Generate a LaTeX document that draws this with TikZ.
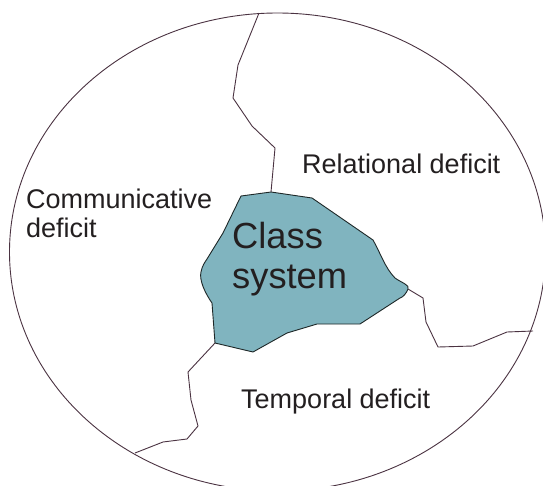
\documentclass[tikz,border=0pt]{standalone}
\usepackage{fontspec}
\setmainfont{Liberation Sans}
\definecolor{linecol}{HTML}{4B3342}
\definecolor{blobfill}{HTML}{80B4BF}
\definecolor{blobline}{HTML}{1E2828}
\definecolor{textcol}{HTML}{231F20}
\tikzset{
  border/.style={draw=linecol, line width=0.9pt},
  divider/.style={draw=linecol, line width=0.9pt, line join=round},
  blob/.style={fill=blobfill, draw=blobline, line width=0.9pt, line join=round},
  label/.style={anchor=base west, inner sep=0pt, text=textcol, font=\fontsize{27}{29}\selectfont},
  biglabel/.style={anchor=base west, inner sep=0pt, text=textcol, font=\fontsize{36.3}{40}\selectfont}
}
\begin{document}
\begin{tikzpicture}[x=1pt, y=-1pt]
\useasboundingbox (0,0) rectangle (543,485);
\clip (0,0) rectangle (543,485);
\fill[white] (0,0) rectangle (543,485);
% outer ellipse
\draw[border] (277.5,252) ellipse [x radius=268, y radius=239];
% dividing lines
\coordinate (topend) at (259,13);
\coordinate (rightend) at (533,331);
\coordinate (botend) at (135,453);
\coordinate (btop) at (271,192);
\coordinate (bright) at (408,289);
\coordinate (bbot) at (215,343);
\draw[divider] (topend) -- (238,65) -- (233,98) -- (252,126) -- (275,148) -- (btop);
\draw[divider] (bright) -- (423,298) -- (426,322) -- (438,347) -- (473,346) -- (507,332) -- (rightend);
\draw[divider] (bbot) -- (188,372) -- (191,400) -- (198,426) -- (187,439) -- (163,442) -- (botend);
% class system blob
\path[blob] (241,196) -- (btop) -- (312,198) -- (373,240)
  .. controls (380,252) and (385,268) .. (395,278)
  .. controls (402,283) and (410,285) .. (bright)
  .. controls (406,294) and (403,297) .. (400,298)
  -- (360,324) -- (317,324) -- (287,333) -- (253,352) -- (bbot) -- (212,303)
  .. controls (205,293) and (199,280) .. (201,272)
  .. controls (202,266) and (205,262) .. (207,259)
  -- (223,233) -- cycle;
% labels
\node[label] (rel) at (302,173) {Relational deficit};
\node[label] (com1) at (26,208) {Communicative};
\node[label] (com2) at (26,237) {deficit};
\node[label] (tem) at (241,408) {Temporal deficit};
\node[biglabel] (cls1) at (232,248) {Class};
\node[biglabel] (cls2) at (232,288) {system};
\end{tikzpicture}
\end{document}
